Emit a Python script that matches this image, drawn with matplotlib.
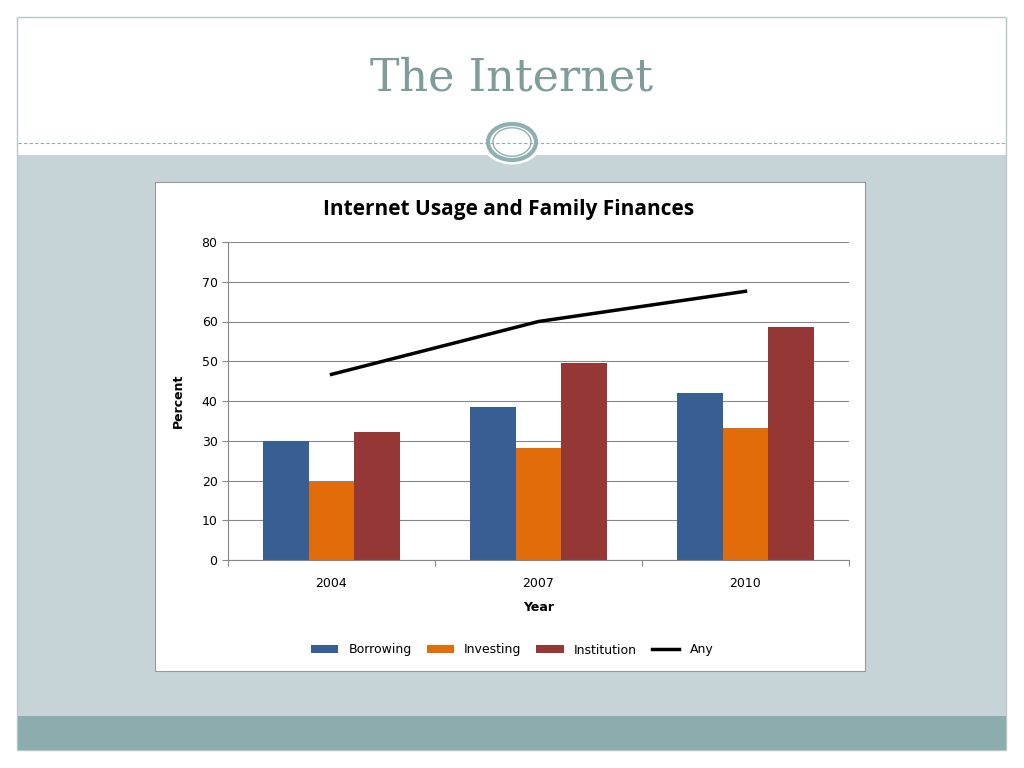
import matplotlib.pyplot as plt
from matplotlib.patches import Rectangle, Circle
from matplotlib.lines import Line2D
import numpy as np

years = ['2004', '2007', '2010']
borrowing = [30.0, 38.5, 42.0]
investing = [19.5, 28.3, 33.2]
institution = [32.3, 49.5, 58.7]
any_use = [46.7, 60.0, 67.6]

W, H = 1024, 768
fig = plt.figure(figsize=(W / 100, H / 100), dpi=100)
fig.patch.set_facecolor('white')

def box(x0, y0, x1, y1, **kw):
    # pixel coords (top-left origin) -> figure coords
    fig.patches.append(Rectangle((x0 / W, 1 - y1 / H), (x1 - x0) / W, (y1 - y0) / H,
                                 transform=fig.transFigure, **kw))

# slide decoration
box(17, 17, 1006, 750, facecolor='white', edgecolor='#b8c6c8', lw=1)
box(18, 155, 1006, 716, facecolor='#c6d4d8', edgecolor='none')
box(18, 716, 1006, 750, facecolor='#8cadad', edgecolor='none')
fig.lines.append(Line2D([18 / W, 1006 / W], [1 - 143 / H] * 2, transform=fig.transFigure,
                        color='#9aaaaa', lw=0.8, ls=(0, (3, 2))))
fig.patches.append(Circle((512 / W, 1 - 142 / H), 30 / W, transform=fig.transFigure,
                          facecolor='white', edgecolor='none'))
fig.patches.append(Circle((512 / W, 1 - 142 / H), 24 / W, transform=fig.transFigure,
                          facecolor='white', edgecolor='#8fb0b0', lw=3))
fig.patches.append(Circle((512 / W, 1 - 142 / H), 19 / W, transform=fig.transFigure,
                          facecolor='white', edgecolor='#8fb0b0', lw=1))
fig.text(0.5, 1 - 78 / H, 'The Internet', ha='center', va='center', fontsize=32,
         family='DejaVu Serif', color='#7d9c9a')

# chart area
box(155, 182, 865, 671, facecolor='white', edgecolor='#999999', lw=0.8)
fig.text(509 / W, 1 - 210 / H, 'Internet Usage and Family Finances', ha='center', va='center',
         fontsize=15, fontweight='bold', family='Open Sans')

ax = fig.add_axes([228 / W, 1 - 560 / H, 621 / W, 318 / H])
ax.set_zorder(5)
ax.patch.set_alpha(0)
x = np.arange(len(years)) + 0.5
bw = 0.222
b1 = ax.bar(x - bw, borrowing, bw, color='#375f94', label='Borrowing')
b2 = ax.bar(x, investing, bw, color='#e36c0a', label='Investing')
b3 = ax.bar(x + bw, institution, bw, color='#953735', label='Institution')
l1, = ax.plot(x, any_use, color='black', lw=2.5, label='Any')

ax.set_xlim(0, 3)
ax.set_ylim(0, 80)
ax.set_yticks(range(0, 81, 10))
ax.set_xticks([0, 1, 2, 3], minor=False)
ax.set_xticklabels([])
ax.set_xticks(x, minor=True)
ax.set_xticklabels(years, minor=True)
ax.tick_params(axis='x', which='minor', length=0, pad=12, labelsize=9)
ax.tick_params(axis='x', which='major', length=4, color='#888888')
ax.tick_params(axis='y', labelsize=9, length=4, color='#888888')
ax.grid(axis='y', color='#888888', lw=0.8)
ax.set_axisbelow(True)
for s in ['top', 'right']:
    ax.spines[s].set_visible(False)
ax.spines['left'].set_color('#888888')
ax.spines['bottom'].set_color('#888888')
ax.set_xlabel('Year', fontsize=9, fontweight='bold', labelpad=8)
ax.set_ylabel('Percent', fontsize=9, fontweight='bold', labelpad=12)

leg = fig.legend([b1, b2, b3, l1], ['Borrowing', 'Investing', 'Institution', 'Any'],
                 loc='center', bbox_to_anchor=(512 / W, 1 - 650 / H), ncol=4, frameon=False,
                 fontsize=9, handlelength=2.2, handleheight=0.6, columnspacing=1.2)
leg.set_zorder(6)

fig.savefig('out.png', dpi=100, facecolor=fig.get_facecolor())
